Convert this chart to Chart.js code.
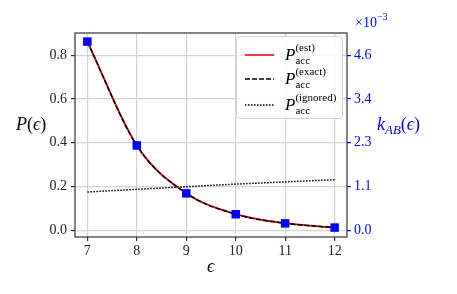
<!DOCTYPE html>
<html>
<head>
<meta charset="utf-8">
<script src="https://cdn.jsdelivr.net/npm/chart.js@4"></script>
<style>
  body { margin: 0; background: #fff; }
</style>
</head>
<body>
<canvas id="chart" width="457" height="294"></canvas>
<script>
const eps = [7, 8, 9, 10, 11, 12];
const pEst = [0.863, 0.388, 0.169, 0.074, 0.032, 0.012];
const pExact = [0.862, 0.387, 0.169, 0.073, 0.032, 0.012];
const pIgnored = [0.175, 0.187, 0.199, 0.211, 0.221, 0.231];
const kAB = [4.96, 2.23, 0.97, 0.42, 0.18, 0.07]; // x 1e-3

const xTicks = [7, 8, 9, 10, 11, 12];
const yTicks = [0, 0.2, 0.4, 0.6, 0.8];
const kTicks = [0, 1.15, 2.3, 3.45, 4.6];
const kTickLabels = ["0.0", "1.1", "2.3", "3.4", "4.6"];

const K = 5.75; // right axis per left axis unit
const yMin = -0.031, yMax = 0.902;
const SERIF = "'Liberation Serif', 'DejaVu Serif', serif";
const BLUE = "#0000ff";

const pts = ys => eps.map((x, i) => ({ x, y: ys[i] }));

// draws a run of text pieces, each with its own font and baseline shift
function rich(ctx, x, y, parts, color) {
  ctx.fillStyle = color;
  ctx.textBaseline = "alphabetic";
  ctx.textAlign = "left";
  parts.forEach(p => {
    ctx.font = p.f;
    ctx.fillText(p.t, x + (p.dx || 0), y + (p.dy || 0));
    if (!p.stay) x += ctx.measureText(p.t).width + (p.dx || 0);
  });
}

const extras = {
  id: "extras",
  afterDatasetsDraw(c) {
    const ctx = c.ctx, a = c.chartArea;
    ctx.save();
    ctx.strokeStyle = "#333";
    ctx.lineWidth = 1.2;
    ctx.strokeRect(a.left, a.top, a.right - a.left, a.bottom - a.top);

    // legend
    const lx = 236, ly = 36, lw = 106, lh = 82;
    ctx.beginPath();
    ctx.roundRect(lx + 0.5, ly + 0.5, lw, lh, 3);
    ctx.fillStyle = "rgba(255,255,255,0.85)";
    ctx.fill();
    ctx.strokeStyle = "#d0d0d0";
    ctx.lineWidth = 1;
    ctx.stroke();

    const rows = [
      { y: 55, color: "#e00000", dash: [], sup: "(est)" },
      { y: 79, color: "#000", dash: [5, 2], sup: "(exact)" },
      { y: 105, color: "#000", dash: [1.5, 1.5], sup: "(ignored)" }
    ];
    rows.forEach(r => {
      ctx.beginPath();
      ctx.setLineDash(r.dash);
      ctx.strokeStyle = r.color;
      ctx.lineWidth = 1.5;
      ctx.moveTo(245, r.y);
      ctx.lineTo(274, r.y);
      ctx.stroke();
      ctx.setLineDash([]);
      rich(ctx, 285, r.y + 5, [
        { t: "P", f: `italic 17px ${SERIF}` },
        { t: r.sup, f: `11px ${SERIF}`, dy: -9, stay: true },
        { t: "acc", f: `11px ${SERIF}`, dy: 4 }
      ], "#000");
    });

    // axis titles
    rich(ctx, 16, 130, [
      { t: "P", f: `italic 18px ${SERIF}` },
      { t: "(", f: `18px ${SERIF}` },
      { t: "ϵ", f: `italic 18px ${SERIF}` },
      { t: ")", f: `18px ${SERIF}` }
    ], "#000");
    rich(ctx, 207, 272, [{ t: "ϵ", f: `italic 18px ${SERIF}` }], "#000");
    rich(ctx, 377, 130, [
      { t: "k", f: `italic 18px ${SERIF}` },
      { t: "AB", f: `italic 13px ${SERIF}`, dy: 4 },
      { t: "(", f: `18px ${SERIF}` },
      { t: "ϵ", f: `italic 18px ${SERIF}` },
      { t: ")", f: `18px ${SERIF}` }
    ], BLUE);
    rich(ctx, 355, 27, [
      { t: "×10", f: `14px ${SERIF}` },
      { t: "−3", f: `10px ${SERIF}`, dy: -7 }
    ], BLUE);
    ctx.restore();
  }
};

new Chart(chart, {
  type: "line",
  data: {
    datasets: [
      {
        data: pts(kAB), yAxisID: "y2", order: 0,
        showLine: false, pointStyle: "rect", pointRadius: 6,
        backgroundColor: BLUE, borderColor: BLUE, borderWidth: 0
      },
      {
        data: pts(pExact), yAxisID: "y", order: 1,
        borderColor: "#000", borderWidth: 1.5, borderDash: [5, 2],
        cubicInterpolationMode: "monotone", pointRadius: 0
      },
      {
        data: pts(pEst), yAxisID: "y", order: 2,
        borderColor: "#e00000", borderWidth: 1.8,
        cubicInterpolationMode: "monotone", pointRadius: 0
      },
      {
        data: pts(pIgnored), yAxisID: "y", order: 3,
        borderColor: "#000", borderWidth: 1.5, borderDash: [1.5, 1.5],
        pointRadius: 0
      }
    ]
  },
  options: {
    responsive: false,
    animation: false,
    devicePixelRatio: 1,
    layout: { padding: { top: 33 } },
    plugins: { legend: { display: false }, tooltip: { enabled: false } },
    scales: {
      x: {
        type: "linear", min: 6.75, max: 12.25,
        afterFit: s => { s.height = 57; },
        afterBuildTicks: s => { s.ticks = xTicks.map(v => ({ value: v })); },
        grid: { color: "#d4d4d4", lineWidth: 1.2, tickColor: "#333", tickLength: 4 },
        border: { display: false },
        ticks: { font: { family: SERIF, size: 14 }, color: "#222", padding: 2, maxRotation: 0 }
      },
      y: {
        position: "left", min: yMin, max: yMax,
        afterFit: s => { s.width = 75; },
        afterBuildTicks: s => { s.ticks = yTicks.map(v => ({ value: v })); },
        grid: { color: "#d4d4d4", lineWidth: 1.2, tickColor: "#333", tickLength: 4 },
        border: { display: false },
        ticks: { font: { family: SERIF, size: 14 }, color: "#222", padding: 4, callback: v => v.toFixed(1) }
      },
      y2: {
        position: "right", min: yMin * K, max: yMax * K,
        afterFit: s => { s.width = 110; },
        afterBuildTicks: s => { s.ticks = kTicks.map(v => ({ value: v })); },
        grid: { drawOnChartArea: false, tickColor: BLUE, tickLength: 4, lineWidth: 1.2 },
        border: { display: false },
        ticks: { font: { family: SERIF, size: 14 }, color: BLUE, padding: 3,
                 callback: (v, i) => kTickLabels[i] }
      }
    }
  },
  plugins: [extras]
});
</script>
</body>
</html>
